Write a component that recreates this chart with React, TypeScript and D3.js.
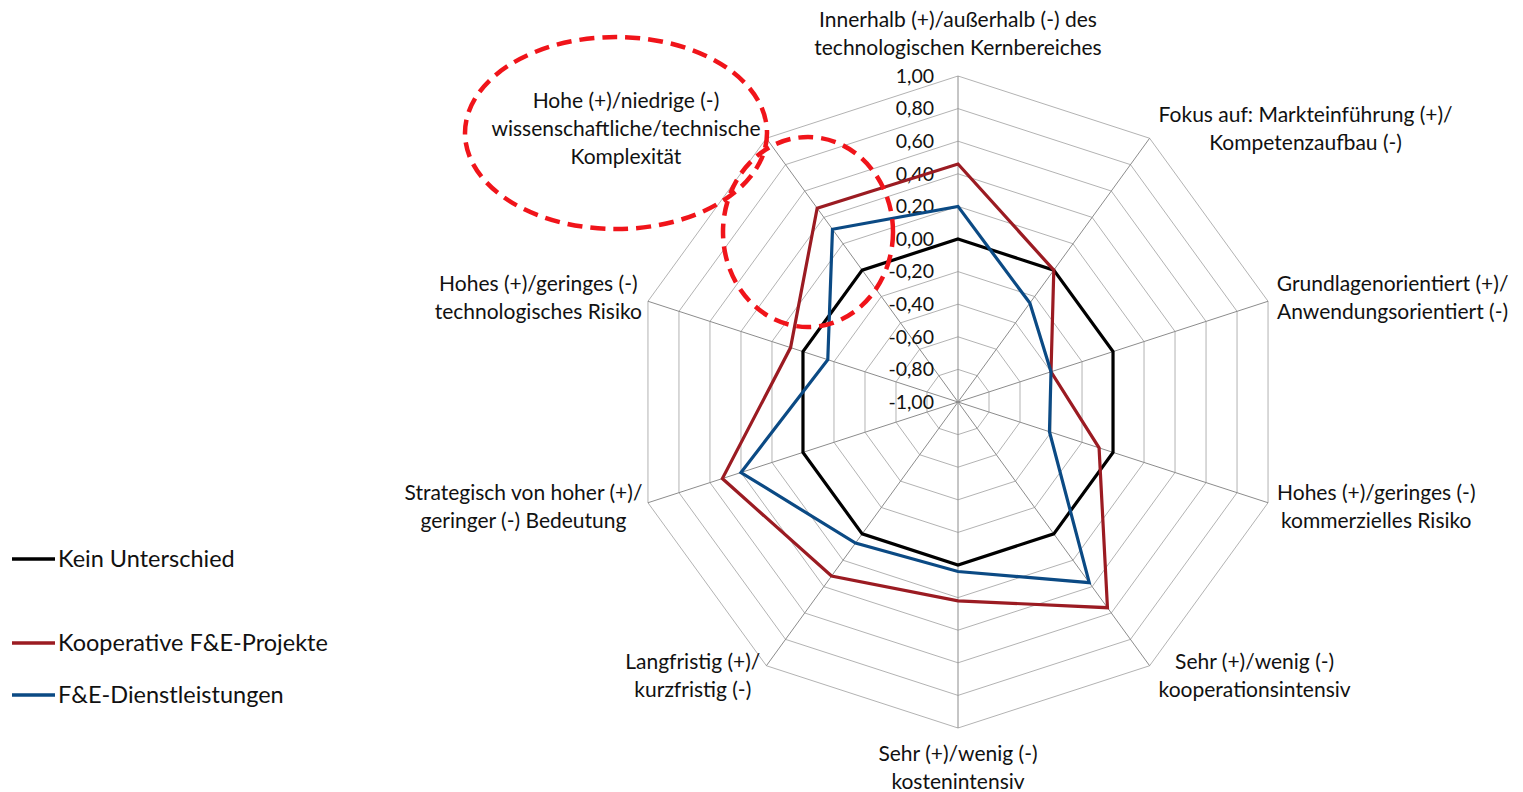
import React, { useRef, useEffect } from 'react';
import * as d3 from 'd3';

// axis labels, clockwise from the top
const axisLabels = [
  ['Innerhalb (+)/außerhalb (-) des', 'technologischen Kernbereiches'],
  ['Fokus auf: Markteinführung (+)/', 'Kompetenzaufbau (-)'],
  ['Grundlagenorientiert (+)/', 'Anwendungsorientiert (-)'],
  ['Hohes (+)/geringes (-)', 'kommerzielles Risiko'],
  ['Sehr (+)/wenig (-)', 'kooperationsintensiv'],
  ['Sehr (+)/wenig (-)', 'kostenintensiv'],
  ['Langfristig (+)/', 'kurzfristig (-)'],
  ['Strategisch von hoher (+)/', 'geringer (-) Bedeutung'],
  ['Hohes (+)/geringes (-)', 'technologisches Risiko'],
  ['Hohe (+)/niedrige (-)', 'wissenschaftliche/technische', 'Komplexität'],
];

const keinUnterschied = [0, 0, 0, 0, 0, 0, 0, 0, 0, 0];
const kooperativeProjekte = [0.46, 0.0, -0.4, -0.09, 0.56, 0.22, 0.32, 0.52, 0.08, 0.47];
const dienstleistungen = [0.2, -0.25, -0.4, -0.41, 0.37, 0.04, 0.07, 0.4, -0.16, 0.31];

const tickValues = [1, 0.8, 0.6, 0.4, 0.2, 0, -0.2, -0.4, -0.6, -0.8, -1];

const seriesNames = ['Kein Unterschied', 'Kooperative F&E-Projekte', 'F&E-Dienstleistungen'];
const seriesColors = ['#000000', '#9b1b22', '#0b4a84'];

const W = 1523;
const H = 792;
const cx = 958;
const cy = 402;
const R = 326;
const font = 'Lato, "Open Sans", sans-serif';

const App = () => {
  const svgRef = useRef<SVGSVGElement>(null);

  useEffect(() => {
    const svg = d3.select(svgRef.current);
    svg.selectAll('*').remove();

    const n = axisLabels.length;
    const r = d3.scaleLinear().domain([-1, 1]).range([0, R]);
    const angle = (i: number) => (i * 2 * Math.PI) / n;
    const pt = (i: number, v: number): [number, number] => [
      cx + r(v) * Math.sin(angle(i)),
      cy - r(v) * Math.cos(angle(i)),
    ];

    const g = svg.append('g');

    // grid rings
    const ringVals = tickValues.filter(v => v > -1);
    g.selectAll('path.ring')
      .data(ringVals)
      .enter()
      .append('path')
      .attr('d', v => d3.line()(d3.range(n).map(i => pt(i, v))) + 'Z')
      .attr('fill', 'none')
      .attr('stroke', '#b3b3b3')
      .attr('stroke-width', 1);

    // spokes
    g.selectAll('line.spoke')
      .data(d3.range(n))
      .enter()
      .append('line')
      .attr('x1', cx)
      .attr('y1', cy)
      .attr('x2', i => pt(i, 1)[0])
      .attr('y2', i => pt(i, 1)[1])
      .attr('stroke', '#8c8c8c')
      .attr('stroke-width', 1);

    // tick labels
    g.selectAll('text.tick')
      .data(tickValues)
      .enter()
      .append('text')
      .attr('x', cx - 24)
      .attr('y', v => cy - r(v))
      .attr('dy', '0.35em')
      .attr('text-anchor', 'end')
      .style('font-family', font)
      .style('font-size', '19.5px')
      .attr('fill', '#111')
      .text(v => d3.format('.2f')(v).replace('.', ',').replace('−', '-'));

    // series
    const allSeries = [keinUnterschied, kooperativeProjekte, dienstleistungen];
    allSeries.forEach((vals, s) => {
      g.append('path')
        .attr('d', d3.line()(vals.map((v, i) => pt(i, v))) + 'Z')
        .attr('fill', 'none')
        .attr('stroke', seriesColors[s])
        .attr('stroke-width', 3.2)
        .attr('stroke-linejoin', 'miter');
    });

    // axis labels
    const lh = 28;
    axisLabels.forEach((lines, i) => {
      const [vx, vy] = pt(i, 1);
      const sn = Math.sin(angle(i));
      const cs = Math.cos(angle(i));
      const t = g.append('text')
        .style('font-family', font)
        .style('font-size', '21px')
        .attr('fill', '#111')
        .attr('text-anchor', 'middle');
      const spans = lines.map(l => t.append('tspan').text(l));
      const wMax = d3.max(spans, sp => (sp.node() as SVGTSpanElement).getComputedTextLength()) || 0;
      let mx = vx;
      if (sn > 0.1) mx = vx + 9 + wMax / 2;
      else if (sn < -0.1) mx = vx - 6 - wMax / 2;
      const blockH = (lines.length - 1) * lh;
      let firstY = vy - blockH / 2 - 12 * cs;
      if (i === 0) firstY = vy - 56;
      if (i === 5) firstY = vy + 26;
      spans.forEach((sp, k) => sp.attr('x', mx).attr('y', firstY + k * lh).attr('dy', '0.35em'));
    });

    // annotation ellipses
    const ell = [
      { x: 616, y: 133, rx: 151, ry: 96 },
      { x: 808, y: 232, rx: 85, ry: 95 },
    ];
    g.selectAll('ellipse')
      .data(ell)
      .enter()
      .append('ellipse')
      .attr('cx', d => d.x)
      .attr('cy', d => d.y)
      .attr('rx', d => d.rx)
      .attr('ry', d => d.ry)
      .attr('fill', 'none')
      .attr('stroke', '#f0141a')
      .attr('stroke-width', 4.5)
      .attr('stroke-dasharray', '15 8');

    // legend
    const legY = [559, 643, 695];
    seriesNames.forEach((name, s) => {
      g.append('line')
        .attr('x1', 12).attr('x2', 55)
        .attr('y1', legY[s]).attr('y2', legY[s])
        .attr('stroke', seriesColors[s])
        .attr('stroke-width', 3.5);
      g.append('text')
        .attr('x', 58)
        .attr('y', legY[s])
        .attr('dy', '0.35em')
        .style('font-family', font)
        .style('font-size', '23.5px')
        .attr('fill', '#111')
        .text(name);
    });
  }, []);

  return (
    <svg
      ref={svgRef}
      width={W}
      height={H}
      style={{ position: 'absolute', left: 0, top: 0, background: '#fff' }}
    />
  );
};

export default App;
